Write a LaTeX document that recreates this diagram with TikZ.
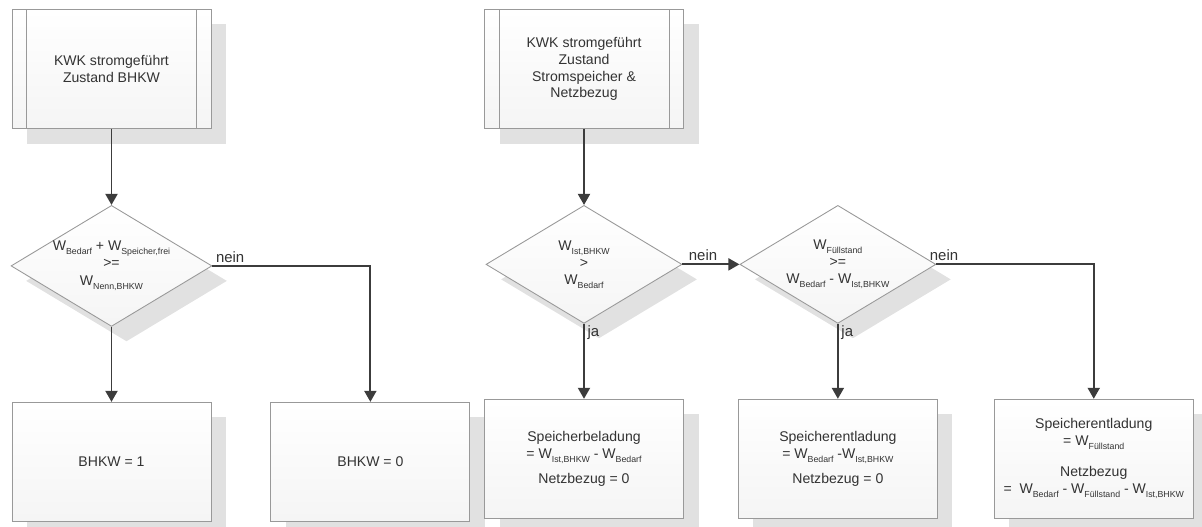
\documentclass[tikz,border=0pt]{standalone}
\usepackage{fontspec}
\setmainfont{Liberation Sans}
\usetikzlibrary{arrows.meta,positioning,shapes.geometric,shadows}
\definecolor{boxline}{HTML}{999999}
\definecolor{arrowgray}{HTML}{3C3C3C}
\definecolor{shadowgray}{HTML}{E1E1E1}
\definecolor{textgray}{HTML}{333333}
\newcommand{\W}[1]{W\raisebox{-0.55ex}{\fontsize{5}{6}\selectfont #1}}
\tikzset{stepbox/.style={draw=boxline, line width=0.5pt, top color=white, bottom color=gray!8,
  minimum width=3.98cm, minimum height=2.38cm, align=center, text=textgray,
  drop shadow={shadow xshift=0.3cm, shadow yshift=-0.3cm, fill=shadowgray, opacity=1}},
  subproc/.style={stepbox, path picture={
    \draw[boxline, line width=0.5pt] ([xshift=2.9mm]path picture bounding box.north west) -- ([xshift=2.9mm]path picture bounding box.south west);
    \draw[boxline, line width=0.5pt] ([xshift=-2.9mm]path picture bounding box.north east) -- ([xshift=-2.9mm]path picture bounding box.south east);}},
  decision/.style={stepbox, diamond, aspect=1.66, inner sep=0pt,
    minimum width=3.92cm, minimum height=2.36cm},
  flowarrow/.style={-{Triangle[length=2.2mm, width=2.4mm]}, line width=1.1pt, arrowgray},
  answer/.style={font=\fontsize{8.5}{10}\selectfont, text=textgray, inner sep=1.5pt},
  flow/.style={font=\fontsize{8}{9.6}\selectfont}}

\begin{document}
\begin{tikzpicture}[flow]
    \useasboundingbox (0,0) rectangle (24.04,-10.54);
    % left branch
    \node[subproc] (start1) at (2.23,-1.38) {KWK stromgeführt\\Zustand BHKW};
    \node[decision, below=1.52cm of start1] (dec1) {\W{Bedarf} + \W{Speicher,frei}\\>=\\[1pt]\W{Nenn,BHKW}};
    \node[stepbox, below=1.5cm of dec1] (res1) {BHKW = 1};
    \node[stepbox, right=1.18cm of res1] (res0) {BHKW = 0};
    % right branch
    \node[subproc] (start2) at (11.68,-1.38) {KWK stromgeführt\\Zustand\\Stromspeicher \&\\Netzbezug};
    \node[decision, below=1.52cm of start2] (dec2) {\W{Ist,BHKW}\\>\\\W{Bedarf}};
    \node[decision, right=1.14cm of dec2] (dec3) {\W{Füllstand}\\>=\\\W{Bedarf} - \W{Ist,BHKW}};
    \node[stepbox, below=1.5cm of dec2] (res2) {Speicherbeladung\\= \W{Ist,BHKW} - \W{Bedarf}\\[5pt]Netzbezug = 0};
    \node[stepbox, below=1.5cm of dec3] (res3) {Speicherentladung\\= \W{Bedarf} -\W{Ist,BHKW}\\[5pt]Netzbezug = 0};
    \node[stepbox, right=1.12cm of res3] (res4) {Speicherentladung\\= \W{Füllstand}\\[8pt]Netzbezug\\=\ \ \W{Bedarf} - \W{Füllstand} - \W{Ist,BHKW}};

    \draw[flowarrow] (start1) -- (dec1);
    \draw[flowarrow] (dec1) -- (res1);
    \draw[flowarrow] (dec1.east) -| node[answer, pos=0, anchor=south west] {nein} (res0.north);
    \draw[flowarrow] (start2) -- (dec2);
    \draw[flowarrow] (dec2) -- node[answer, pos=0.12, right] {ja} (res2);
    \draw[flowarrow] (dec2.east) -- node[answer, pos=0.05, anchor=south west] {nein} (dec3.west);
    \draw[flowarrow] (dec3) -- node[answer, pos=0.12, right] {ja} (res3);
    \draw[flowarrow] (dec3.east) -| node[answer, pos=0, anchor=south west, xshift=-2mm] {nein} (res4.north);
  \end{tikzpicture}
\end{document}
